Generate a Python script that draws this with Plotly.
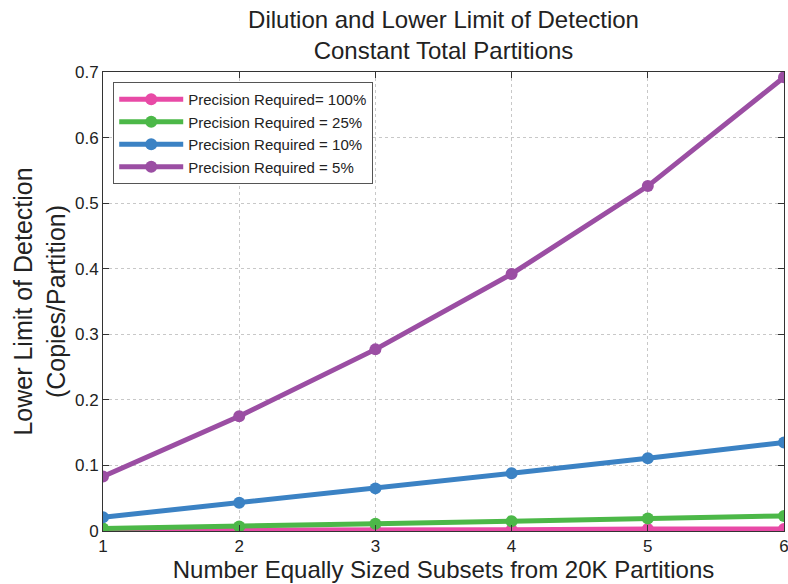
import plotly.graph_objects as go

subsets = [1, 2, 3, 4, 5, 6]
p100 = [0.001, 0.001, 0.002, 0.002, 0.003, 0.003]
p25 = [0.004, 0.007, 0.011, 0.015, 0.019, 0.023]
p10 = [0.021, 0.043, 0.065, 0.088, 0.111, 0.135]
p5 = [0.083, 0.175, 0.277, 0.392, 0.526, 0.692]

series = [
    ("Precision Required= 100%", p100, "#e84aa6"),
    ("Precision Required = 25%", p25, "#4cb848"),
    ("Precision Required = 10%", p10, "#3b82c4"),
    ("Precision Required = 5%", p5, "#9b4ea3"),
]

fig = go.Figure()
for name, vals, col in series:
    fig.add_trace(go.Scatter(x=subsets, y=vals, name=name, mode="lines+markers",
                             line=dict(color=col, width=5),
                             marker=dict(color=col, size=12)))

font = "Liberation Sans, Arial, sans-serif"
fig.update_layout(
    width=788, height=584,
    margin=dict(l=103, r=4, t=72, b=53),
    paper_bgcolor="white", plot_bgcolor="white",
    font=dict(family=font, color="#222", size=17),
    title=dict(text="Dilution and Lower Limit of Detection<br>Constant Total Partitions",
               x=0.5, xref="paper", xanchor="center", y=0.952, yanchor="top",
               font=dict(size=24, family=font, color="#222")),
    showlegend=True,
    legend=dict(x=0.015, y=0.978, xanchor="left", yanchor="top",
                bordercolor="#555", borderwidth=1, bgcolor="white",
                itemwidth=64,
                font=dict(size=15, family=font), tracegroupgap=0),
)
fig.update_xaxes(range=[1, 6], tickvals=subsets, ticktext=[str(v) for v in subsets],
                 showgrid=True, gridcolor="#c8c8c8", griddash="dot", gridwidth=1,
                 showline=True, linecolor="#333", linewidth=1, mirror="ticks",
                 ticks="inside", ticklen=6, tickcolor="#333",
                 zeroline=False, automargin=False, ticklabeloverflow="allow",
                 title=dict(text="Number Equally Sized Subsets from 20K Partitions",
                            font=dict(size=24, family=font), standoff=2),
                 tickfont=dict(size=17))
fig.update_yaxes(range=[0, 0.7], tickvals=[0, 0.1, 0.2, 0.3, 0.4, 0.5, 0.6, 0.7],
                 ticktext=["0", "0.1", "0.2", "0.3", "0.4", "0.5", "0.6", "0.7"],
                 showgrid=True, gridcolor="#c8c8c8", griddash="dot", gridwidth=1,
                 showline=True, linecolor="#333", linewidth=1, mirror="ticks",
                 ticks="inside", ticklen=6, tickcolor="#333",
                 zeroline=False, automargin=True, ticklabeloverflow="allow",
                 title=dict(text="Lower Limit of Detection<br>(Copies/Partition)",
                            font=dict(size=25, family=font), standoff=2),
                 tickfont=dict(size=17))
fig.write_html("out.html", config={"displayModeBar": False},
               post_script="document.body.style.margin='0';document.body.style.overflow='hidden';")
